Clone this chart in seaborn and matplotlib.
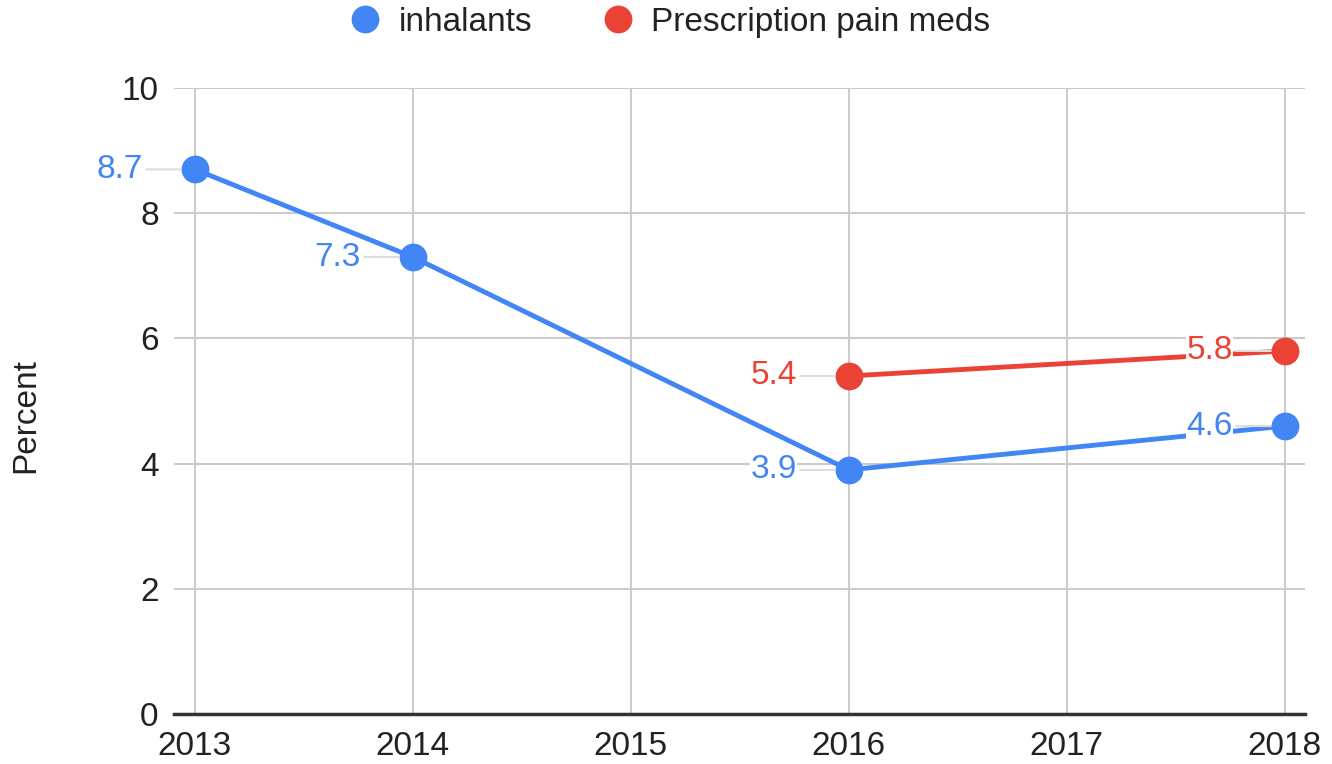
"""Inhalant vs prescription pain med use, 2013-2018."""

import pandas as pd
import seaborn as sns
import matplotlib.pyplot as plt
from matplotlib.lines import Line2D

###################################################################################################
###################################################################################################

inhalant_years = [2013, 2014, 2016, 2018]
inhalant_pct = [8.7, 7.3, 3.9, 4.6]

rx_years = [2016, 2018]
rx_pct = [5.4, 5.8]

series_names = ['inhalants', 'Prescription pain meds']
colors = {'inhalants': '#4285F4', 'Prescription pain meds': '#EA4335'}

x_ticks = [2013, 2014, 2015, 2016, 2017, 2018]
y_ticks = [0, 2, 4, 6, 8, 10]

###################################################################################################
###################################################################################################

df = pd.concat([
    pd.DataFrame({'year': inhalant_years, 'pct': inhalant_pct, 'series': series_names[0]}),
    pd.DataFrame({'year': rx_years, 'pct': rx_pct, 'series': series_names[1]}),
])

sns.set_style('white')
plt.rcParams['font.family'] = ['Liberation Sans', 'DejaVu Sans']

fig = plt.figure(figsize=(13.32, 7.64), dpi=100)
ax = fig.add_axes([0.1306, 0.0654, 0.849, 0.8194])

sns.lineplot(data=df, x='year', y='pct', hue='series', palette=colors, marker='o',
             markersize=20, markeredgewidth=0, linewidth=3.5, legend=False, ax=ax, zorder=3)

ax.set_xlim(2012.904, 2018.092)
ax.set_ylim(0, 10)
ax.set_xticks(x_ticks)
ax.set_yticks(y_ticks)
ax.grid(True, color='#cccccc', linewidth=1.5)
ax.set_axisbelow(True)
for side in ['left', 'right', 'top']:
    ax.spines[side].set_visible(False)
ax.spines['bottom'].set_color('#333333')
ax.spines['bottom'].set_linewidth(2.5)
ax.tick_params(axis='both', length=0, labelsize=24, colors='#222222')
ax.tick_params(axis='y', pad=11)
ax.tick_params(axis='x', pad=12)
ax.set_xlabel('')
ax.set_ylabel('Percent', fontsize=24, color='#222222')
ax.yaxis.set_label_coords(-0.117, 0.476)

# data labels with faint leader lines
for name, xs, ys in [(series_names[0], inhalant_years, inhalant_pct),
                     (series_names[1], rx_years, rx_pct)]:
    for x, y in zip(xs, ys):
        ax.annotate(f'{y:.1f}', xy=(x, y), xytext=(-52, 0), textcoords='offset pixels',
                    ha='right', va='center', fontsize=24, color=colors[name], zorder=4,
                    bbox=dict(boxstyle='square,pad=0.02', fc='white', ec='none'),
                    arrowprops=dict(arrowstyle='-', color='#dddddd', lw=1.5,
                                    shrinkA=2, shrinkB=10))

handles = [Line2D([], [], linestyle='none', marker='o', markersize=20, markeredgewidth=0,
                  color=colors[n]) for n in series_names]
fig.legend(handles, series_names, loc='upper center', bbox_to_anchor=(0.5, 1.03), ncol=2,
           frameon=False, fontsize=24, handlelength=1.4, handletextpad=0.3,
           columnspacing=1.88, labelcolor='#222222')

fig.savefig('out.png', dpi=100)
